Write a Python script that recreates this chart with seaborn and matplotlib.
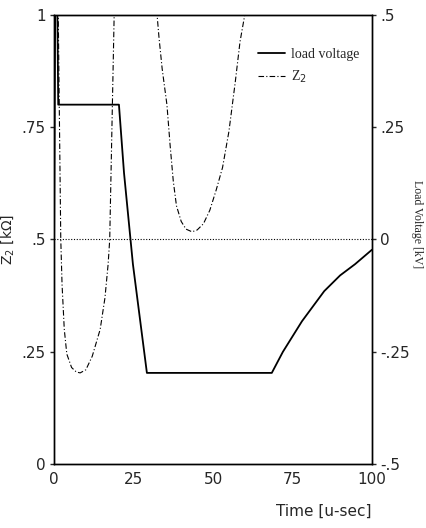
import numpy as np
import pandas as pd
import matplotlib
matplotlib.use("Agg")
import matplotlib.pyplot as plt
import seaborn as sns

# Z2 impedance [kOhm] (values above 1 run off the top)
z2_time = [0.5, 1.3, 1.7, 2.1, 2.5, 3.2, 4.0, 5.5, 7.0, 8.2, 10.0, 12.0, 14.5,
           16.0, 17.0, 17.5, 18.2, 18.9, 19.5, 22.0, 28.0, 31.5, 32.4, 33.0,
           34.0, 35.5, 36.5, 37.5, 38.5, 40.0, 41.5, 43.4, 45.0, 47.0, 49.0,
           51.0, 53.0, 55.0, 57.0, 58.5, 60.0, 62.0, 100.0]
z2_value = [1.5, 1.0, 0.75, 0.5, 0.40, 0.30, 0.245, 0.215, 0.205, 0.203, 0.21,
            0.24, 0.30, 0.37, 0.445, 0.5, 0.75, 1.0, 1.2, 1.6, 1.6, 1.2, 1.0,
            0.95, 0.88, 0.80, 0.71, 0.63, 0.575, 0.54, 0.523, 0.517, 0.521,
            0.535, 0.565, 0.61, 0.66, 0.74, 0.85, 0.94, 1.0, 1.3, 1.6]

# load voltage [kV]
lv_time = [0.0, 0.4, 0.9, 1.3, 20.4, 22.0, 24.8, 29.2, 68.5, 72.0, 78.0,
           85.0, 90.0, 94.7, 100.0]
lv_value = [0.0, 0.6, 0.6, 0.3, 0.3, 0.148, -0.055, -0.297, -0.297, -0.25,
            -0.182, -0.115, -0.08, -0.055, -0.023]

x_ticks = [0, 25, 50, 75, 100]
z2_ticks = [0, 0.25, 0.5, 0.75, 1]
z2_labels = ["0", ".25", ".5", ".75", "1"]
kv_ticks = [-0.5, -0.25, 0, 0.25, 0.5]
kv_labels = ["-.5", "-.25", "0", ".25", ".5"]

sns.set_style("white")
plt.rcParams["font.family"] = ["DejaVu Sans"]

z2_df = pd.DataFrame({"t": z2_time, "z2": z2_value})
lv_df = pd.DataFrame({"t": lv_time, "kv": lv_value})

fig = plt.figure(figsize=(4.26, 5.28), dpi=100)
ax = fig.add_axes([0.127, 0.121, 0.746, 0.851])
ax2 = ax.twinx()

sns.lineplot(data=z2_df, x="t", y="z2", ax=ax, color="black", lw=0.8,
             linestyle=(0, (5, 2, 1, 2)), sort=False, label="Z$_2$", legend=False)
sns.lineplot(data=lv_df, x="t", y="kv", ax=ax2, color="black", lw=1.3,
             sort=False, label="load voltage", legend=False)
ax2.axhline(0, color="black", lw=0.8, linestyle=(0, (1, 1.5)))

ax.set_xlim(0, 100)
ax.set_ylim(0, 1)
ax2.set_ylim(-0.5, 0.5)
ax.set_xticks(x_ticks)
ax.set_xticklabels([str(v) for v in x_ticks], fontsize=11)
ax.set_yticks(z2_ticks)
ax.set_yticklabels(z2_labels, fontsize=11)
ax2.set_yticks(kv_ticks)
ax2.set_yticklabels(kv_labels, fontsize=11)
ax.tick_params(axis="x", direction="in", length=8, width=1, pad=6)
ax.tick_params(axis="y", direction="out", length=3, width=1, pad=3)
ax2.tick_params(axis="y", direction="out", length=3, width=1, pad=3)

for a in (ax, ax2):
    for s in a.spines.values():
        s.set_color("black")
        s.set_linewidth(1.0)
        s.set_visible(True)

ax.set_xlabel("Time [u-sec]", fontsize=11, loc="right", labelpad=12)
ax.set_ylabel("Z$_2$ [k$\\Omega$]", fontsize=10, labelpad=4)
ax2.set_ylabel("")
fig.text(0.978, 0.575, "Load Voltage [kV]", rotation=270, fontsize=8.5,
         family="Liberation Serif", ha="center", va="center")

h1, l1 = ax2.get_legend_handles_labels()
h2, l2 = ax.get_legend_handles_labels()
ax2.legend(h1 + h2, l1 + l2, loc="upper right", bbox_to_anchor=(1.0, 0.955),
           frameon=False, prop={"family": "Liberation Serif", "size": 10},
           handlelength=2.0, handletextpad=0.4, labelspacing=0.6)

fig.savefig("out.png", dpi=100)
